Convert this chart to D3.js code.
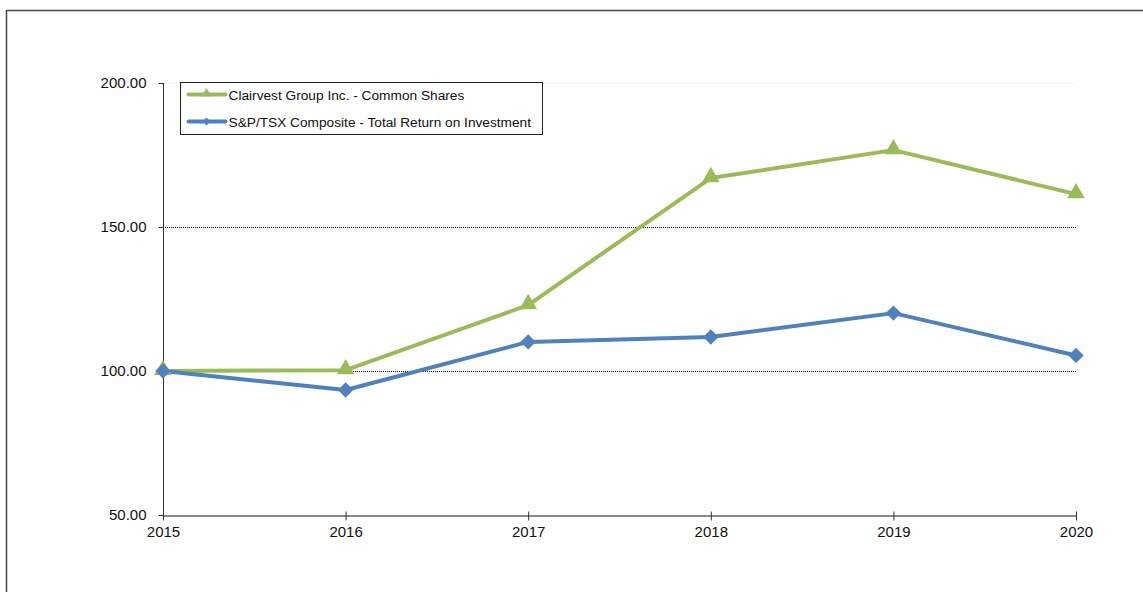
<!DOCTYPE html>
<html>
<head>
<meta charset="utf-8">
<script src="https://cdn.jsdelivr.net/npm/d3@7"></script>
<style>
  html, body { margin: 0; padding: 0; background: #fff; overflow: hidden; }
  svg { display: block; font-family: "Liberation Sans", Arial, sans-serif; }
</style>
</head>
<body>
<script>
// chart data
const years = ["2015", "2016", "2017", "2018", "2019", "2020"];
const clairvest = [100.0, 100.3, 122.9, 167.0, 176.7, 161.4];
const sptsx = [100.0, 93.4, 110.1, 111.8, 120.1, 105.4];
const yTicks = [50, 100, 150, 200];
const seriesNames = ["Clairvest Group Inc. - Common Shares", "S&P/TSX Composite - Total Return on Investment"];

const width = 1143, height = 592;
const margin = { left: 163, right: 67, top: 83, bottom: 77 };

const svg = d3.select("body").append("svg")
  .attr("width", width)
  .attr("height", height);

// outer chart border (runs off right/bottom edge)
svg.append("rect")
  .attr("x", 6.5).attr("y", 10.5)
  .attr("width", 1200).attr("height", 700)
  .attr("fill", "none")
  .attr("stroke", "#444")
  .attr("stroke-width", 1.5);

const x = d3.scalePoint()
  .domain(years)
  .range([margin.left, width - margin.right]);

const y = d3.scaleLinear()
  .domain([50, 200])
  .range([height - margin.bottom, margin.top]);

// gridlines
svg.append("g")
  .selectAll("line")
  .data(yTicks.filter(t => t > 50))
  .join("line")
  .attr("x1", margin.left)
  .attr("x2", width - margin.right)
  .attr("y1", d => Math.round(y(d)) + 0.5)
  .attr("y2", d => Math.round(y(d)) + 0.5)
  .attr("stroke", d => d === 200 ? "#e4e4e4" : "#000")
  .attr("stroke-width", 1)
  .attr("stroke-dasharray", "1,1");

// y axis
const yAxis = svg.append("g")
  .attr("transform", `translate(${margin.left + 0.5},0)`)
  .call(d3.axisLeft(y).tickValues(yTicks).tickSize(5).tickPadding(12)
    .tickFormat(d3.format(".2f")));
yAxis.select(".domain").attr("stroke", "#333").attr("d", `M0,${y(200)}V${y(50)}`);
yAxis.selectAll(".tick line").attr("stroke", "#333");
yAxis.selectAll("text").attr("font-size", 15).attr("fill", "#111")
  .attr("font-family", "Liberation Sans, Arial, sans-serif");

// x axis
const xAxis = svg.append("g")
  .attr("transform", `translate(0,${Math.round(y(50)) + 0.5})`)
  .call(d3.axisBottom(x).tickSize(0).tickPadding(11));
xAxis.select(".domain").attr("stroke", "#111");
xAxis.selectAll(".tick").append("line")
  .attr("y1", -4).attr("y2", 5).attr("stroke", "#333");
xAxis.selectAll("text").attr("font-size", 15).attr("fill", "#111")
  .attr("font-family", "Liberation Sans, Arial, sans-serif");

const series = [
  { name: seriesNames[0], values: clairvest, color: "#9BBB59", symbol: d3.symbolTriangle },
  { name: seriesNames[1], values: sptsx, color: "#4F81BD", symbol: d3.symbolDiamond2 }
];

const line = d3.line()
  .x((d, i) => x(years[i]))
  .y(d => y(d));

// draw green first, then blue on top
series.forEach(s => {
  svg.append("path")
    .datum(s.values)
    .attr("d", line)
    .attr("fill", "none")
    .attr("stroke", s.color)
    .attr("stroke-width", 4)
    .attr("stroke-linejoin", "round");
});
series.forEach(s => {
  svg.append("g")
    .selectAll("path")
    .data(s.values)
    .join("path")
    .attr("transform", (d, i) => `translate(${x(years[i])},${y(d) + (s.symbol === d3.symbolTriangle ? -1 : 0)})`)
    .attr("d", d3.symbol().type(s.symbol).size(s.symbol === d3.symbolTriangle ? 135 : 150))
    .attr("fill", s.color);
});

// legend
const legend = svg.append("g").attr("transform", "translate(180.5,82.5)");
legend.append("rect")
  .attr("width", 362).attr("height", 52)
  .attr("fill", "#fff").attr("stroke", "#222").attr("stroke-width", 1);
series.forEach((s, i) => {
  const row = legend.append("g").attr("transform", `translate(0,${12 + i * 27})`);
  row.append("line")
    .attr("x1", 8).attr("x2", 45)
    .attr("stroke", s.color).attr("stroke-width", 4).attr("stroke-linecap", "round");
  row.append("path")
    .attr("transform", `translate(26,${s.symbol === d3.symbolTriangle ? -1 : 0})`)
    .attr("d", d3.symbol().type(s.symbol).size(40))
    .attr("fill", s.color);
  row.append("text")
    .attr("x", 48).attr("y", 5)
    .attr("font-size", 13.7).attr("fill", "#111")
    .text(s.name);
});
</script>
</body>
</html>
